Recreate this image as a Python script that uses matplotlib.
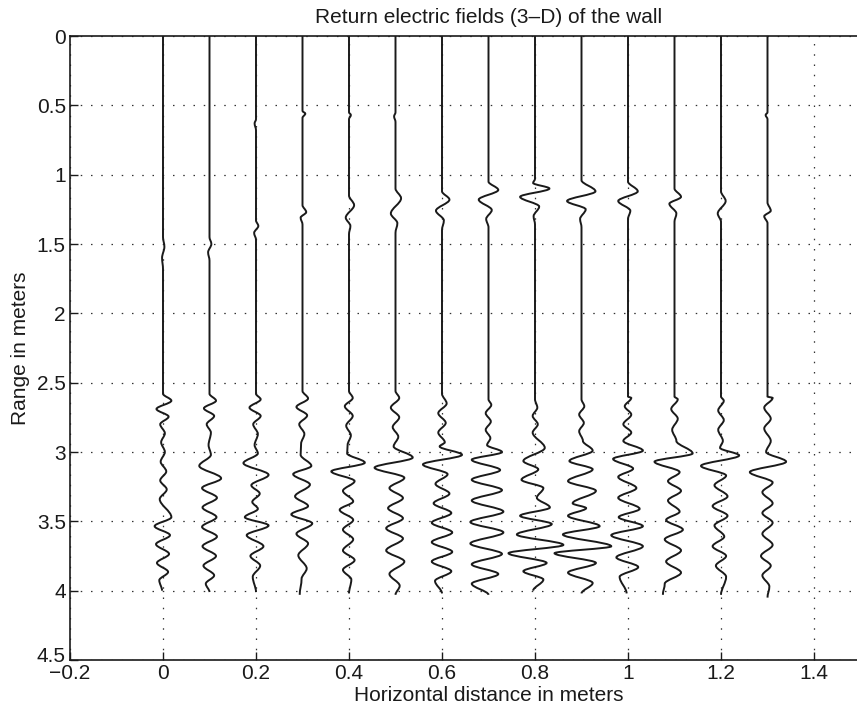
import numpy as np
import matplotlib
matplotlib.use("Agg")
import matplotlib.pyplot as plt
import matplotlib.transforms as mtransforms
from matplotlib.path import Path
from matplotlib.patches import PathPatch

plt.rcParams['font.family'] = ['Liberation Sans', 'DejaVu Sans']

# horizontal position of each trace (m)
positions = [0.0, 0.1, 0.2, 0.3, 0.4, 0.5, 0.6, 0.7, 0.8, 0.9, 1.0, 1.1, 1.2, 1.3]

# each trace: (range in m, sideways swing in m) at its turning points
trace_000 = [(0, 0), (1.45, 0), (1.52, 0.003), (1.60, -0.002), (1.68, 0), (2.58, 0),
             (2.63, 0.018), (2.69, -0.014), (2.745, 0.012), (2.80, -0.006), (2.865, 0.004),
             (2.93, -0.004), (3.00, 0.004), (3.07, -0.005), (3.14, 0.007), (3.205, -0.006),
             (3.27, 0.008), (3.34, -0.007), (3.47, 0.018), (3.535, -0.018), (3.60, 0.015),
             (3.665, -0.015), (3.735, 0.013), (3.80, -0.013), (3.865, 0.011), (3.925, -0.008),
             (4.0, -0.002)]
trace_010 = [(0, 0), (1.45, 0), (1.50, 0.004), (1.56, -0.003), (1.62, 0), (2.58, 0),
             (2.63, 0.014), (2.685, -0.012), (2.74, 0.010), (2.80, -0.006), (2.86, 0.003),
             (2.95, -0.002), (3.02, 0.003), (3.10, -0.022), (3.19, 0.025), (3.26, -0.016),
             (3.33, 0.016), (3.40, -0.015), (3.47, 0.015), (3.54, -0.016), (3.61, 0.016),
             (3.68, -0.015), (3.75, 0.014), (3.82, -0.013), (3.89, 0.010), (3.95, -0.008),
             (4.01, 0)]
trace_020 = [(0, 0), (0.60, 0), (0.63, -0.003), (0.68, 0), (1.33, 0), (1.37, 0.005),
             (1.42, -0.004), (1.47, 0), (2.58, 0), (2.62, 0.010), (2.68, -0.014), (2.74, 0.010),
             (2.80, -0.006), (2.87, 0.004), (2.95, -0.003), (3.01, 0.004), (3.08, -0.027),
             (3.165, 0.027), (3.24, -0.010), (3.30, 0.008), (3.36, -0.008), (3.41, 0.004),
             (3.47, -0.024), (3.53, 0.027), (3.60, -0.020), (3.68, 0.016), (3.75, -0.012),
             (3.82, 0.009), (3.90, -0.007), (4.01, 0)]
trace_030 = [(0, 0), (0.54, 0), (0.56, 0.006), (0.59, 0), (1.22, 0), (1.27, 0.008),
             (1.31, -0.004), (1.36, 0), (2.56, 0), (2.614, 0.012), (2.675, -0.013),
             (2.736, 0.010), (2.80, -0.007), (2.87, 0.004), (2.94, -0.003), (3.02, -0.004),
             (3.10, 0.019), (3.16, -0.020), (3.235, 0.016), (3.32, -0.016), (3.39, 0.012),
             (3.45, -0.024), (3.515, 0.021), (3.59, -0.013), (3.66, 0.012), (3.745, -0.009),
             (3.84, 0.009), (3.915, -0.002), (4.03, -0.006)]
trace_040 = [(0, 0), (0.55, 0), (0.57, 0.004), (0.60, 0), (1.15, 0), (1.22, 0.011),
             (1.31, -0.007), (1.37, 0.003), (1.43, 0), (2.56, 0), (2.61, 0.008),
             (2.67, -0.009), (2.74, 0.008), (2.81, -0.006), (2.88, 0.004), (2.95, -0.003),
             (3.01, -0.004), (3.077, 0.034), (3.14, -0.038), (3.21, 0.012), (3.28, -0.013),
             (3.356, 0.009), (3.417, -0.020), (3.49, 0.009), (3.56, -0.013), (3.63, 0.009),
             (3.71, -0.013), (3.78, 0.012), (3.85, -0.013), (3.92, 0.005), (4.02, 0)]
trace_050 = [(0, 0), (0.55, 0), (0.58, -0.003), (0.62, 0), (1.10, 0), (1.17, 0.012),
             (1.28, -0.010), (1.35, 0.004), (1.42, 0), (2.56, 0), (2.61, 0.008),
             (2.68, -0.010), (2.75, 0.008), (2.82, -0.006), (2.89, 0.006), (2.96, -0.004),
             (3.04, 0.037), (3.113, -0.045), (3.186, 0.019), (3.26, -0.013), (3.332, 0.016),
             (3.405, -0.016), (3.478, 0.016), (3.55, -0.020), (3.624, 0.016), (3.71, -0.020),
             (3.79, 0.019), (3.88, -0.013), (3.965, 0.009), (4.03, 0)]
trace_060 = [(0, 0), (0.55, 0), (1.12, 0), (1.18, 0.016), (1.26, -0.013), (1.33, 0.004),
             (1.40, 0), (2.58, 0), (2.65, 0.010), (2.72, -0.008), (2.79, 0.008),
             (2.86, -0.008), (2.93, 0.006), (2.96, -0.005), (3.02, 0.043), (3.09, -0.041),
             (3.16, 0.012), (3.23, -0.014), (3.30, 0.016), (3.37, -0.018), (3.44, 0.020),
             (3.51, -0.022), (3.58, 0.022), (3.65, -0.022), (3.72, 0.022), (3.79, -0.022),
             (3.86, 0.020), (3.93, -0.015), (4.02, 0)]
trace_070 = [(0, 0), (1.05, 0), (1.11, 0.021), (1.18, -0.021), (1.255, 0.007),
             (1.32, -0.005), (1.38, 0), (2.62, 0), (2.66, 0.006), (2.72, -0.006),
             (2.78, 0.005), (2.84, -0.006), (2.90, 0.004), (2.95, -0.003), (3.0, 0.029),
             (3.056, -0.036), (3.13, 0.025), (3.20, -0.036), (3.275, 0.029), (3.35, -0.036),
             (3.43, 0.032), (3.505, -0.039), (3.58, 0.032), (3.66, -0.039), (3.735, 0.029),
             (3.81, -0.036), (3.88, 0.021), (3.95, -0.036), (4.03, 0)]
trace_080 = [(0, 0), (1.03, 0), (1.06, -0.004), (1.10, 0.031), (1.16, -0.032),
             (1.23, 0.009), (1.30, -0.003), (1.36, 0), (2.62, 0), (2.68, 0.005),
             (2.74, -0.005), (2.80, 0.006), (2.86, -0.005), (2.97, 0.021), (3.065, -0.025),
             (3.125, 0.007), (3.20, -0.029), (3.26, 0.018), (3.33, 0.004), (3.40, 0.032),
             (3.46, -0.032), (3.52, 0.036), (3.595, -0.039), (3.67, 0.061), (3.73, -0.057),
             (3.80, 0.025), (3.86, -0.025), (3.92, 0.018), (4.0, -0.004)]
trace_090 = [(0, 0), (1.04, 0), (1.12, 0.030), (1.19, -0.031), (1.25, 0.009),
             (1.32, -0.003), (1.38, 0), (2.62, 0), (2.67, 0.006), (2.73, -0.005),
             (2.79, 0.005), (2.85, -0.005), (2.92, 0.003), (2.99, 0.024), (3.065, -0.026),
             (3.125, 0.024), (3.21, -0.029), (3.28, 0.031), (3.37, -0.019), (3.405, 0.010),
             (3.46, -0.029), (3.535, 0.039), (3.595, -0.040), (3.68, 0.064), (3.73, -0.058),
             (3.80, 0.031), (3.87, -0.029), (3.945, 0.024), (4.02, 0)]
trace_100 = [(0, 0), (1.05, 0), (1.12, 0.021), (1.19, -0.021), (1.26, 0.005), (1.32, 0),
             (2.60, 0), (2.61, 0.007), (2.67, -0.007), (2.73, 0.007), (2.80, -0.010),
             (2.86, 0.007), (2.92, -0.010), (2.99, 0.032), (3.05, -0.032), (3.12, 0.011),
             (3.18, -0.021), (3.26, 0.018), (3.33, -0.021), (3.41, 0.025), (3.47, -0.020),
             (3.535, 0.032), (3.60, -0.036), (3.68, 0.032), (3.76, -0.025), (3.83, 0.022),
             (3.90, -0.018), (4.02, -0.003)]
trace_110 = [(0, 0), (1.10, 0), (1.16, 0.014), (1.21, -0.011), (1.28, 0.004), (1.34, 0),
             (2.60, 0), (2.62, 0.007), (2.69, -0.007), (2.76, 0.007), (2.84, -0.005),
             (2.92, 0.004), (3.01, 0.039), (3.07, -0.043), (3.145, 0.011), (3.21, -0.014),
             (3.28, 0.014), (3.35, -0.014), (3.43, 0.011), (3.49, -0.018), (3.56, 0.018),
             (3.63, -0.021), (3.71, 0.014), (3.79, -0.018), (3.87, 0.014), (3.95, -0.021),
             (4.03, -0.025)]
trace_120 = [(0, 0), (0.55, 0), (1.12, 0), (1.19, 0.010), (1.28, -0.007), (1.34, 0),
             (2.60, 0), (2.63, 0.006), (2.70, -0.006), (2.77, 0.006), (2.84, -0.006),
             (2.92, 0.004), (2.97, -0.002), (3.025, 0.039), (3.10, -0.043), (3.17, 0.011),
             (3.24, -0.014), (3.32, 0.014), (3.39, -0.018), (3.46, 0.014), (3.53, -0.014),
             (3.61, 0.007), (3.68, -0.018), (3.75, 0.011), (3.82, -0.011), (3.90, 0.011),
             (4.03, 0)]
trace_130 = [(0, 0), (0.55, 0), (0.57, -0.004), (0.60, 0), (1.20, 0), (1.26, 0.007),
             (1.30, -0.007), (1.35, 0), (2.60, 0), (2.61, 0.011), (2.68, -0.007),
             (2.76, 0.007), (2.83, -0.007), (2.92, 0.007), (3.0, -0.003), (3.07, 0.040),
             (3.145, -0.038), (3.22, 0.011), (3.29, -0.011), (3.37, 0.011), (3.44, -0.011),
             (3.51, 0.011), (3.59, -0.011), (3.67, 0.011), (3.75, -0.014), (3.82, 0.007),
             (3.89, -0.011), (3.97, 0.004), (4.05, 0)]

traces = [trace_000, trace_010, trace_020, trace_030, trace_040, trace_050, trace_060,
          trace_070, trace_080, trace_090, trace_100, trace_110, trace_120, trace_130]

x_ticks = [-0.2, 0, 0.2, 0.4, 0.6, 0.8, 1.0, 1.2, 1.4]
y_ticks = [0, 0.5, 1, 1.5, 2, 2.5, 3, 3.5, 4, 4.5]


def trace_path(x0, knots):
    # smooth curve through the turning points, vertical tangent at each one
    verts = [(x0 + knots[0][1], knots[0][0])]
    codes = [Path.MOVETO]
    for (d1, a1), (d2, a2) in zip(knots[:-1], knots[1:]):
        h = d2 - d1
        verts += [(x0 + a1, d1 + h / 3), (x0 + a2, d2 - h / 3), (x0 + a2, d2)]
        codes += [Path.CURVE4] * 3
    return Path(verts, codes)


def fmt(v):
    s = f"{v:g}"
    return s.replace('-', '\u2212')


fig = plt.figure(figsize=(8.57, 7.19), dpi=100)
# axes runs past the right edge, like the cropped scan
ax = fig.add_axes([70 / 857, 59 / 719, 837 / 857, 624 / 719])

ax.set_xlim(-0.2, 1.6)
ax.set_ylim(4.5, 0)

for x0, knots in zip(positions, traces):
    ax.add_patch(PathPatch(trace_path(x0, knots), fill=False, edgecolor='#1a1a1a',
                           linewidth=1.4, zorder=3))

ax.set_xticks(x_ticks)
ax.set_xticklabels([fmt(v) for v in x_ticks])
ax.set_yticks(y_ticks)
ax.set_yticklabels([fmt(v) for v in y_ticks])

ax.grid(True, color='#333333', linestyle=(0, (1.2, 7)), linewidth=0.9)
ax.tick_params(direction='in', length=6, width=1.0, labelsize=15, pad=3, colors='#1a1a1a')
for sp in ax.spines.values():
    sp.set_linewidth(1.2)
    sp.set_color('#1a1a1a')

# lift the bottom range label a little off the corner
ax.get_yticklabels()[-1].set_transform(
    ax.get_yticklabels()[-1].get_transform()
    + mtransforms.ScaledTranslation(0, 4 / 72, fig.dpi_scale_trans))

ax.set_title("Return electric fields (3\u2013D) of the wall", fontsize=15, pad=9.5, color='#1a1a1a')
ax.set_xlabel("Horizontal distance in meters", fontsize=15, labelpad=2, color='#1a1a1a')
ax.set_ylabel("Range in meters", fontsize=15, labelpad=5, color='#1a1a1a')

fig.savefig("out.png", dpi=100)
